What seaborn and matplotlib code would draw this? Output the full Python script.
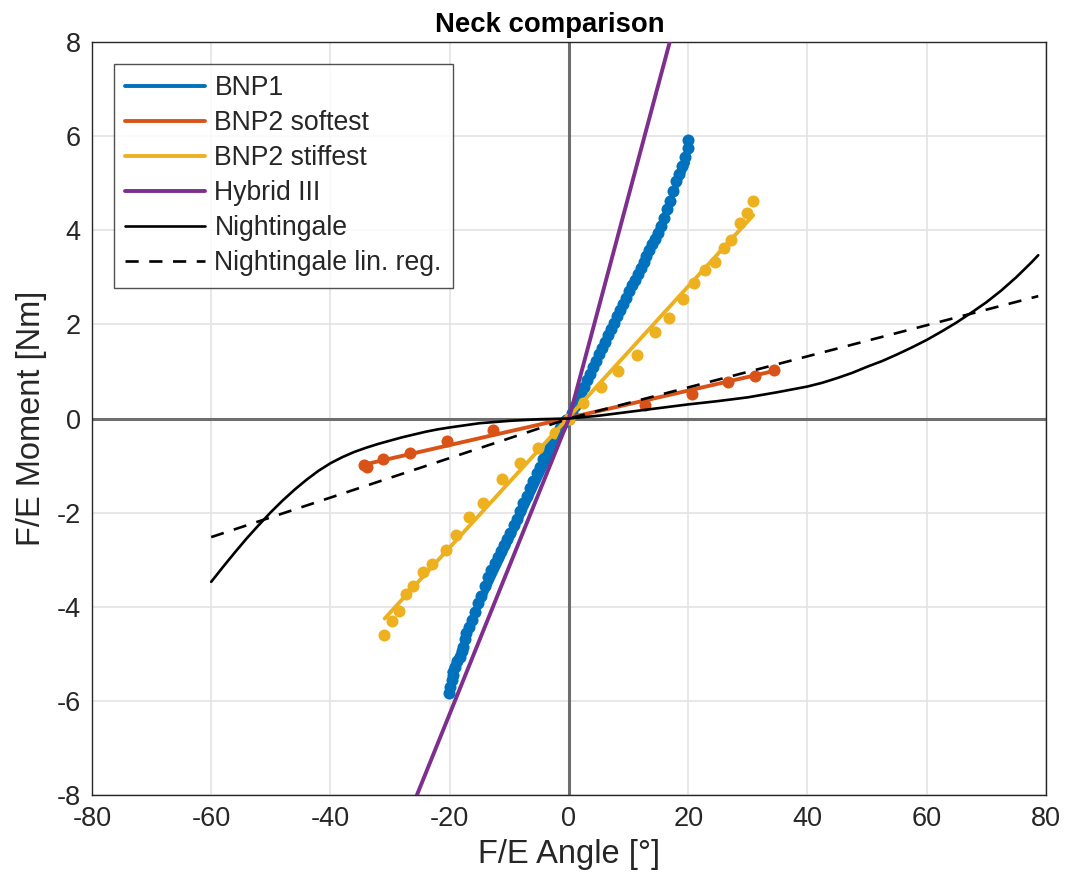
import numpy as np
import pandas as pd
import matplotlib
matplotlib.use("Agg")
import matplotlib.pyplot as plt
import seaborn as sns

# ---- data ----
# BNP1 measured points (dense)
bnp1_x = [-20.1, -20.0, -19.7, -19.4, -19.1, -18.7, -18.3, -18.0, -17.7, -17.4, -17.2, -16.8,
          -16.3, -15.8, -15.2, -14.7, -14.1, -13.5, -13.0, -12.4, -11.9, -11.4, -10.9, -10.4,
          -9.9, -9.3, -8.8, -8.2, -7.7, -7.1, -6.5, -6.0, -5.4, -4.9, -4.3, -3.8, -3.2, -2.6,
          -2.1, -1.5, -1.0, -0.5, 0.0, 0.5, 1.0, 1.5, 2.0, 2.5, 3.0, 3.5, 4.0, 4.5, 5.0, 5.5,
          6.0, 6.5, 7.0, 7.5, 8.0, 8.5, 9.0, 9.5, 10.0, 10.5, 11.0, 11.5, 12.0, 12.5, 13.0,
          13.5, 14.0, 14.5, 15.0, 15.5, 16.0, 16.5, 17.0, 17.5, 18.0, 18.5, 19.0, 19.5, 20.0, 20.0]
bnp1_y = [-5.84, -5.70, -5.55, -5.45, -5.27, -5.15, -5.06, -4.95, -4.85, -4.68, -4.56, -4.43,
          -4.28, -4.12, -3.93, -3.77, -3.56, -3.36, -3.22, -3.08, -2.94, -2.81, -2.69, -2.56,
          -2.44, -2.27, -2.13, -1.96, -1.80, -1.64, -1.48, -1.32, -1.16, -1.02, -0.86, -0.73,
          -0.60, -0.45, -0.32, -0.20, -0.10, -0.04, 0.0, 0.12, 0.26, 0.40, 0.54, 0.67, 0.81,
          0.95, 1.09, 1.23, 1.37, 1.50, 1.63, 1.77, 1.90, 2.03, 2.17, 2.30, 2.44, 2.57, 2.71,
          2.83, 2.95, 3.08, 3.20, 3.33, 3.45, 3.58, 3.70, 3.82, 3.95, 4.10, 4.26, 4.45, 4.63,
          4.84, 5.05, 5.20, 5.37, 5.56, 5.74, 5.92]
bnp1_fit_x = [-20.1, 20.0]
bnp1_fit_y = [-5.39, 5.43]

# BNP2 softest
soft_x = [-34.4, -33.9, -31.2, -26.7, -20.5, -12.7, 0.0, 12.75, 20.6, 26.7, 31.2, 34.3]
soft_y = [-0.99, -1.02, -0.87, -0.73, -0.47, -0.24, 0.0, 0.29, 0.53, 0.78, 0.90, 1.03]
soft_fit_x = [-34.4, 34.4]
soft_fit_y = [-0.98, 1.01]

# BNP2 stiffest
stiff_x = [-31.1, -29.7, -28.5, -27.3, -26.1, -24.4, -22.9, -20.6, -18.9, -16.7, -14.4, -11.3,
           -8.2, -5.25, -2.35, 0.0, 2.4, 5.3, 8.3, 11.4, 14.4, 16.7, 19.1, 20.9, 22.8, 24.5,
           26.0, 27.1, 28.6, 29.8, 30.9]
stiff_y = [-4.59, -4.30, -4.08, -3.72, -3.55, -3.26, -3.09, -2.79, -2.48, -2.09, -1.79, -1.29,
           -0.95, -0.63, -0.30, 0.0, 0.34, 0.68, 1.02, 1.35, 1.84, 2.13, 2.55, 2.87, 3.16, 3.33,
           3.62, 3.79, 4.15, 4.36, 4.63]
stiff_fit_x = [-30.9, 30.9]
stiff_fit_y = [-4.25, 4.32]

# Hybrid III (piecewise linear, runs off the axes)
hyb_x = [-27.0, 0.0, 18.0]
hyb_y = [-8.47, 0.0, 8.52]

# Nightingale curve
night_x = [-60, -58, -56, -54, -52, -50, -48, -46, -44, -42, -40, -38, -36, -34, -32, -30, -28,
           -26, -24, -22, -20, -15, -10, -5, 0, 5, 10, 15, 20, 25, 30, 35, 40, 42.5, 45, 47.5,
           50, 52.5, 55, 57.5, 60, 62.5, 65, 67.5, 70, 72.5, 75, 77.5, 78.7]
night_y = [-3.47, -3.15, -2.84, -2.54, -2.26, -1.99, -1.74, -1.51, -1.30, -1.11, -0.95, -0.82,
           -0.71, -0.62, -0.54, -0.47, -0.40, -0.34, -0.28, -0.23, -0.19, -0.10, -0.05, -0.015,
           0.0, 0.06, 0.14, 0.22, 0.30, 0.37, 0.45, 0.56, 0.68, 0.76, 0.86, 0.97, 1.10, 1.22,
           1.36, 1.51, 1.67, 1.85, 2.04, 2.25, 2.47, 2.72, 3.00, 3.31, 3.47]

# Nightingale linear regression
nreg_x = [-60.0, 0.0, 78.7]
nreg_y = [-2.52, 0.0, 2.60]

BLUE = "#0072BD"
ORANGE = "#D95319"
YELLOW = "#EDB120"
PURPLE = "#7E2F8E"
TXT = "#262626"

sns.set_style("white")
plt.rcParams['font.family'] = ['Liberation Sans', 'DejaVu Sans']
plt.rcParams['axes.unicode_minus'] = False

fig = plt.figure(figsize=(10.68, 8.88), dpi=100)
ax = fig.add_axes([0.0861, 0.1047, 0.8933, 0.848])

# grid + zero lines
ax.grid(True, color="#e3e3e3", linewidth=1.2)
ax.set_axisbelow(True)
ax.axhline(0, color="#6e6e6e", linewidth=2.2, zorder=1)
ax.axvline(0, color="#6e6e6e", linewidth=2.2, zorder=1)

# measured points
sns.scatterplot(x=bnp1_x, y=bnp1_y, color=BLUE, s=75, linewidth=0, ax=ax, zorder=3)
sns.scatterplot(x=soft_x, y=soft_y, color=ORANGE, s=75, linewidth=0, ax=ax, zorder=3)
sns.scatterplot(x=stiff_x, y=stiff_y, color=YELLOW, s=75, linewidth=0, ax=ax, zorder=3)

# fit lines
sns.lineplot(x=bnp1_fit_x, y=bnp1_fit_y, color=BLUE, linewidth=2.8, label="BNP1", ax=ax, zorder=4)
sns.lineplot(x=soft_fit_x, y=soft_fit_y, color=ORANGE, linewidth=2.8, label="BNP2 softest", ax=ax, zorder=4)
sns.lineplot(x=stiff_fit_x, y=stiff_fit_y, color=YELLOW, linewidth=2.8, label="BNP2 stiffest", ax=ax, zorder=4)
sns.lineplot(x=hyb_x, y=hyb_y, color=PURPLE, linewidth=2.8, label="Hybrid III", ax=ax, zorder=4)
sns.lineplot(x=night_x, y=night_y, color="black", linewidth=1.9, label="Nightingale", ax=ax, zorder=4)
sns.lineplot(x=nreg_x, y=nreg_y, color="black", linewidth=1.9, linestyle=(0, (5, 4)),
             label="Nightingale lin. reg.", ax=ax, zorder=4)

ax.set_xlim(-80, 80)
ax.set_ylim(-8, 8)
ax.set_xticks(np.arange(-80, 81, 20))
ax.set_yticks(np.arange(-8, 9, 2))
ax.tick_params(axis="both", labelsize=19.5, direction="in", length=5, color=TXT,
               labelcolor=TXT, pad=8)
for sp in ax.spines.values():
    sp.set_color(TXT)
    sp.set_linewidth(1.0)

ax.set_xlabel("F/E Angle [°]", fontsize=23.5, color=TXT, labelpad=5)
ax.set_ylabel("F/E Moment [Nm]", fontsize=23.5, color=TXT, labelpad=7)
ax.set_title("Neck comparison", fontsize=19.8, fontweight="bold", color="black",
             x=0.48, pad=7)

leg = ax.legend(loc="upper left", bbox_to_anchor=(0.023, 0.971), fontsize=19.2, frameon=True,
                fancybox=False, edgecolor=TXT, handlelength=3.0, labelspacing=0.34,
                borderpad=0.42, handletextpad=0.35, borderaxespad=0)
leg.get_frame().set_linewidth(1.0)

fig.savefig("out.png", dpi=100)
